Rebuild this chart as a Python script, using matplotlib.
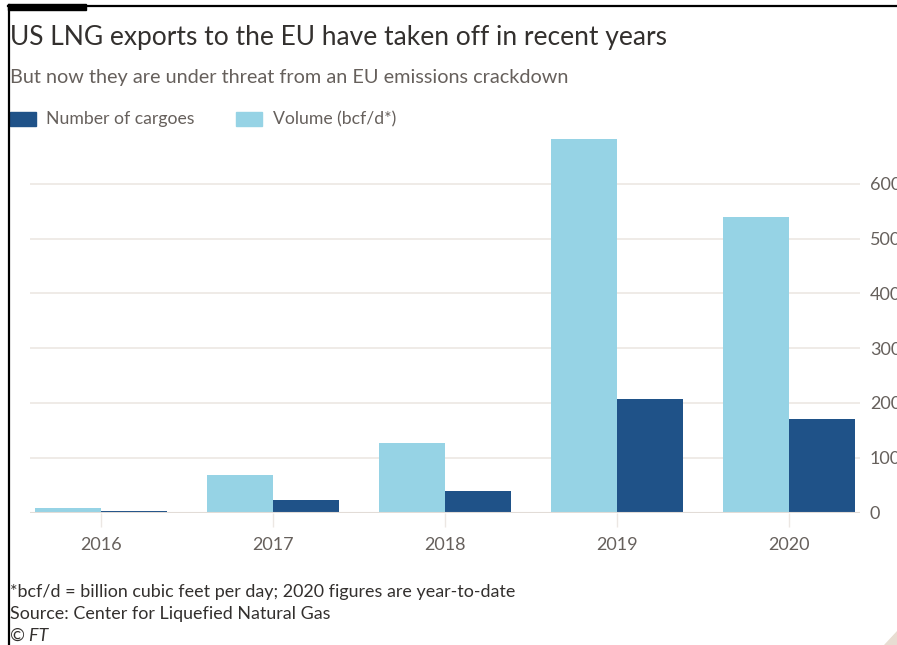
import matplotlib
matplotlib.use("Agg")
import matplotlib.pyplot as plt
import numpy as np
from matplotlib.lines import Line2D
from matplotlib.patches import Rectangle, Polygon

# Dane
years = ["2016", "2017", "2018", "2019", "2020"]
cargoes = [2, 23, 39, 207, 170]
volume = [8, 68, 127, 682, 539]
y_ticks = [0, 100, 200, 300, 400, 500, 600]

dark_blue = "#1f5288"
light_blue = "#96d3e5"
text_dark = "#33302e"
text_grey = "#66605c"
grid_col = "#ece7e3"

W, H = 897, 645
plt.rcParams["font.family"] = ["Lato", "DejaVu Sans"]

fig = plt.figure(figsize=(W / 100, H / 100), dpi=100)
fig.patch.set_facecolor("white")


def fx(px):
    return px / W


def fy(py):
    return 1 - py / H


# Wykres
ax = fig.add_axes([fx(30), fy(512.5), fx(860) - fx(30), fy(129) - fy(512.5)])
x = np.arange(len(years))
bw = 0.383
ax.bar(x - bw / 2, volume, width=bw, color=light_blue, zorder=2)
ax.bar(x + bw / 2, cargoes, width=bw, color=dark_blue, zorder=2)

ax.set_xlim(-0.41, 4.41)
ax.set_ylim(0, 700)
ax.set_yticks(y_ticks)
ax.yaxis.tick_right()
ax.tick_params(axis="y", length=0, pad=7, labelsize=13, labelcolor=text_grey)
ax.set_xticks(x)
ax.set_xticklabels(years)
ax.tick_params(axis="x", length=10, width=1, color=grid_col, pad=8,
               labelsize=13, labelcolor=text_grey)
ax.grid(axis="y", color=grid_col, linewidth=1.2, zorder=0)
for s in ax.spines.values():
    s.set_visible(False)
ax.axhline(0, color="#e2dcd7", linewidth=1.5, zorder=3)

# Tytuły
fig.text(fx(10), fy(38), "US LNG exports to the EU have taken off in recent years",
         fontsize=19, color=text_dark, va="center", ha="left")
fig.text(fx(10), fy(78), "But now they are under threat from an EU emissions crackdown",
         fontsize=14.3, color=text_grey, va="center", ha="left")

# Legenda
fig.add_artist(Rectangle((fx(10), fy(126)), fx(26), fy(112) - fy(126),
                         transform=fig.transFigure, color=dark_blue))
fig.text(fx(46), fy(119), "Number of cargoes", fontsize=12.7, color=text_grey, va="center")
fig.add_artist(Rectangle((fx(236), fy(126)), fx(26), fy(112) - fy(126),
                         transform=fig.transFigure, color=light_blue))
fig.text(fx(273), fy(119), "Volume (bcf/d*)", fontsize=12.7, color=text_grey, va="center")

# Przypisy
fig.text(fx(10), fy(592), "*bcf/d = billion cubic feet per day; 2020 figures are year-to-date",
         fontsize=12.9, color=text_dark, va="center")
fig.text(fx(10), fy(614), "Source: Center for Liquefied Natural Gas",
         fontsize=12.9, color=text_dark, va="center")
fig.text(fx(10), fy(636), "© FT", fontsize=12.9, color=text_dark, va="center", style="italic")

# Ramka
fig.add_artist(Line2D([fx(9), fx(9)], [fy(5), fy(645)], transform=fig.transFigure,
                      color="black", linewidth=1.6))
fig.add_artist(Line2D([fx(8), fx(897)], [fy(5.5), fy(5.5)], transform=fig.transFigure,
                      color="black", linewidth=1.6))
fig.add_artist(Rectangle((fx(8), fy(10)), fx(78), fy(4) - fy(10),
                         transform=fig.transFigure, color="black"))
fig.add_artist(Polygon([[fx(884), fy(645)], [fx(897), fy(645)], [fx(897), fy(631)]],
                       closed=True, transform=fig.transFigure, color="#e8ddd2"))

fig.savefig("out.png", dpi=100, facecolor="white")
